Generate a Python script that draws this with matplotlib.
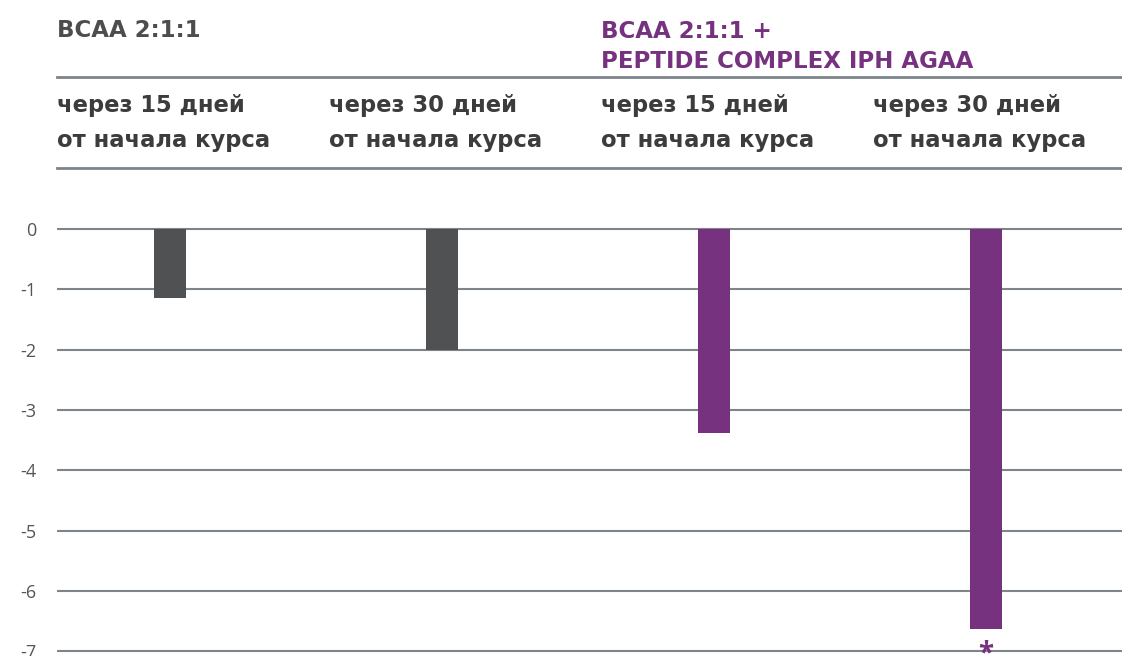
import matplotlib
matplotlib.use('Agg')
import matplotlib.pyplot as plt
from matplotlib.lines import Line2D

# data
group1 = ['BCAA 2:1:1']
group2 = ['BCAA 2:1:1 +', 'PEPTIDE COMPLEX IPH AGAA']
labels = [['через 15 дней', 'от начала курса'], ['через 30 дней', 'от начала курса'],
          ['через 15 дней', 'от начала курса'], ['через 30 дней', 'от начала курса']]
values = [-1.15, -2.0, -3.38, -6.63]
yticks = [0, -1, -2, -3, -4, -5, -6, -7]

GRAY = '#505152'
PURPLE = '#76317f'
TEXT = '#3c3c3c'
LINE = '#7d858b'
bar_colors = [GRAY, GRAY, PURPLE, PURPLE]

plt.rcParams['font.family'] = ['Open Sans', 'DejaVu Sans']
HEAD = ['DejaVu Sans']

W, H = 1122, 656
fig = plt.figure(figsize=(W / 100, H / 100), dpi=100)

def fx(px):
    return px / W

def fy(py):
    return 1 - py / H

# axes from x=57 to right edge, y=180 to bottom
ax = fig.add_axes([fx(57), 0, 1 - fx(57), fy(180)])
ax.set_ylim(-(656 - 229) / 60.3, (229 - 180) / 60.3)
ax.set_xlim(-113 / 272, 3 + 136 / 272)

x = list(range(len(values)))
ax.bar(x, values, width=0.114, color=bar_colors, zorder=3)

for t in yticks:
    ax.axhline(t, color=LINE, lw=1.5, zorder=1)

ax.set_yticks(yticks)
ax.set_yticklabels([str(t) for t in yticks], fontsize=13, color='#555555')
ax.tick_params(axis='y', length=0, pad=15)
ax.set_xticks([])
for s in ax.spines.values():
    s.set_visible(False)

# significance mark (cut by the bottom edge, as in the original)
ax.text(x[3], -6.8, '*', ha='center', va='top', fontsize=20,
        fontweight='bold', color=PURPLE, clip_on=False, zorder=4)

# group headers
fig.text(fx(57), fy(37), group1[0], ha='left', va='baseline', fontsize=16.5,
         fontweight='bold', color='#4d4d4d', family=HEAD)
for txt, base in zip(group2, (38, 68)):
    fig.text(fx(601), fy(base), txt, ha='left', va='baseline', fontsize=16.5,
             fontweight='bold', color=PURPLE, family=HEAD)

# column labels
for i, lab in enumerate(labels):
    for txt, base in zip(lab, (112, 147)):
        fig.text(fx(57 + 272 * i), fy(base), txt, ha='left', va='baseline',
                 fontsize=16.3, fontweight='bold', color=TEXT, family=HEAD)

for py in (77, 168):
    fig.add_artist(Line2D([fx(57), 1], [fy(py), fy(py)], color=LINE, lw=2))

fig.savefig('out.png', dpi=100)
